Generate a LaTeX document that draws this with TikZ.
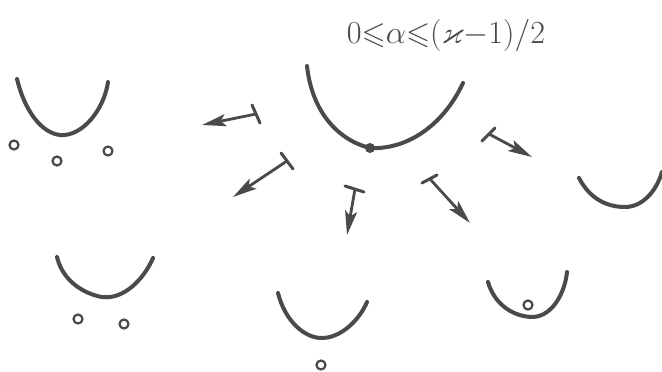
\documentclass[tikz,border=0pt]{standalone}
\usepackage{amssymb}
\usetikzlibrary{arrows.meta}
\definecolor{ink}{HTML}{4A4A4A}
\tikzset{
  cup/.style={draw=ink, line width=4pt, line cap=round},
  hole/.style={circle, draw=ink, line width=2.2pt, minimum size=9pt, inner sep=0pt},
  pt/.style={circle, fill=ink, minimum size=10pt, inner sep=0pt},
  flow/.style={draw=ink, line width=2.8pt, -{Stealth[length=24pt,width=12pt,inset=5pt]}},
  tbar/.style={draw=ink, line width=3pt, line cap=round},
  lab/.style={text=ink, inner sep=0pt}
}
\newcommand{\condtext}{\scalebox{1.55}{\fontsize{20}{24}\selectfont$0{\leqslant}\alpha{\leqslant}(\varkappa{-}1)/2$}}
\begin{document}
\begin{tikzpicture}[x=1pt,y=-1pt]
\useasboundingbox (0,0) rectangle (662,372);
% label
\node[lab] (cond) at (446,35) {\condtext};
% central cup
\draw[cup] (307,66) .. controls (312,112) and (338,140) .. (370,148)
                    .. controls (410,150) and (445,122) .. (463,83);
\node[pt] (c0) at (370,148) {};
% top-left
\draw[cup] (17,79) .. controls (25,112) and (42,133) .. (60,135)
                   .. controls (82,137) and (104,110) .. (108,82);
\node[hole] (h1) at (14,145) {};
\node[hole] (h2) at (57,161) {};
\node[hole] (h3) at (108,151) {};
% right partial
\draw[cup] (579,178) .. controls (590,199) and (607,207) .. (625,207)
                     .. controls (642,207) and (656,192) .. (662,172);
% bottom-left
\draw[cup] (57,257) .. controls (63,282) and (85,294) .. (102,297)
                    .. controls (125,300) and (145,277) .. (153,258);
\node[hole] (h4) at (78,319) {};
\node[hole] (h5) at (124,324) {};
% bottom-middle
\draw[cup] (278,293) .. controls (285,321) and (304,337) .. (320,338)
                     .. controls (341,339) and (360,319) .. (367,302);
\node[hole] (h6) at (321,365) {};
% bottom-right
\draw[cup] (488,282) .. controls (495,306) and (515,317) .. (533,317)
                     .. controls (553,316) and (565,292) .. (567,272);
\node[hole] (h7) at (528,305) {};
% arrows
\coordinate (a1s) at (256,114); \coordinate (a1e) at (202,125);
\coordinate (a1p) at (252,105); \coordinate (a1q) at (260,123);
\draw[flow] (a1s) -- (a1e);
\draw[tbar] (a1p) -- (a1q);
\coordinate (a2s) at (287,161); \coordinate (a2e) at (233,197);
\coordinate (a2p) at (281,153); \coordinate (a2q) at (293,169);
\draw[flow] (a2s) -- (a2e);
\draw[tbar] (a2p) -- (a2q);
\coordinate (a3s) at (355,189); \coordinate (a3e) at (347,235);
\coordinate (a3p) at (345,186); \coordinate (a3q) at (364,192);
\draw[flow] (a3s) -- (a3e);
\draw[tbar] (a3p) -- (a3q);
\coordinate (a4s) at (430,179); \coordinate (a4e) at (470,223);
\coordinate (a4p) at (422,183); \coordinate (a4q) at (437,175);
\draw[flow] (a4s) -- (a4e);
\draw[tbar] (a4p) -- (a4q);
\coordinate (a5s) at (489,134); \coordinate (a5e) at (532,157);
\coordinate (a5p) at (482,141); \coordinate (a5q) at (495,128);
\draw[flow] (a5s) -- (a5e);
\draw[tbar] (a5p) -- (a5q);
\end{tikzpicture}
\end{document}
